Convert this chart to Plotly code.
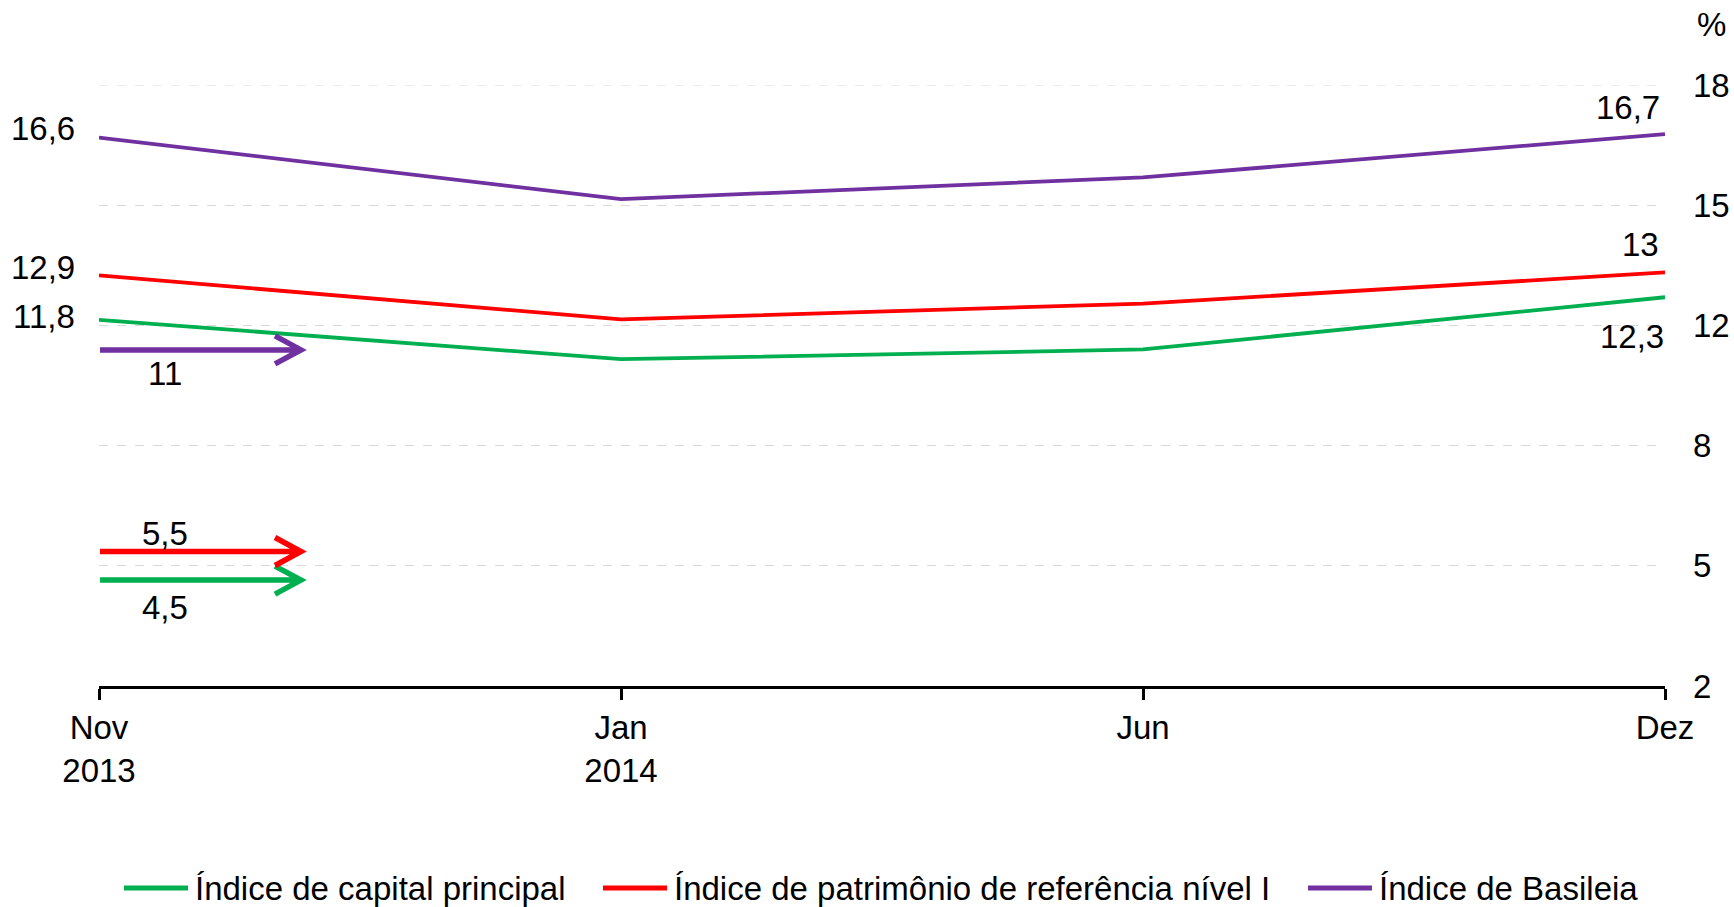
import plotly.graph_objects as go

# ---------------- data ----------------
categories = ["Nov<br>2013", "Jan<br>2014", "Jun", "Dez"]
series_names = [
    "Índice de capital principal",
    "Índice de patrimônio de referência nível I",
    "Índice de Basileia",
]
capital_principal = [11.75, 10.70, 10.96, 12.35]
patrimonio_nivel1 = [12.93, 11.76, 12.18, 13.01]
basileia = [16.60, 14.96, 15.54, 16.69]

start_labels = ["11,8", "12,9", "16,6"]
end_labels = ["12,3", "13", "16,7"]

# regulatory minimums shown as arrows
minimum_values = [4.5, 5.5, 11]
minimum_labels = ["4,5", "5,5", "11"]

y_min, y_max, y_step = 2, 18, 3.2

# ---------------- style ----------------
colors = ["#00B050", "#FF0000", "#7030A0"]
FONT = "Arial, 'Liberation Sans', sans-serif"
FS = 33
W, H = 1734, 907
ML, MR, MT, MB = 99, 69, 85, 221
PW = W - ML - MR
PH = H - MT - MB
start_shift = [(-22, 3), (-22, 8), (-22, 9)]
end_shift = [(1, -39), (-4, 28), (-3, 27)]
arrow_dy = [12, 3, -2]          # pixel offset of drawn arrows
arrow_label_dy = [-15, 21, -26]
arrow_label_dx = 66

# custom legend placement (pixels)
legend_sample_x = [124, 603, 1308]
legend_sample_len = 64
legend_text_gap = 5
legend_y_px = 888


def px_x(p):
    return (p - ML) / PW


def px_y(p):
    return (H - MB - p) / PH


series = [capital_principal, patrimonio_nivel1, basileia]

fig = go.Figure()
for name, vals, col in zip(series_names, series, colors):
    fig.add_trace(go.Scatter(
        x=categories, y=vals, name=name, mode="lines",
        line=dict(color=col, width=3.8),
        hoverinfo="skip", showlegend=False,
    ))

annotations = []
shapes = []
last = len(categories) - 1
for vals, lab, (dx, dy) in zip(series, start_labels, start_shift):
    annotations.append(dict(x=0, y=vals[0], xref="x", yref="y", text=lab,
                            showarrow=False, xanchor="right", yanchor="middle",
                            xshift=dx, yshift=dy, font=dict(size=FS, color="black")))
for vals, lab, (dx, dy) in zip(series, end_labels, end_shift):
    annotations.append(dict(x=last, y=vals[-1], xref="x", yref="y", text=lab,
                            showarrow=False, xanchor="right", yanchor="middle",
                            xshift=dx, yshift=dy, font=dict(size=FS, color="black")))

for val, col, lab, dy, ldy in zip(minimum_values, colors, minimum_labels, arrow_dy, arrow_label_dy):
    shapes.append(dict(
        type="path", xref="x", yref="y", xsizemode="pixel", ysizemode="pixel",
        xanchor=0, yanchor=val,
        path=f"M1,{dy} L202,{dy} M176,{dy + 14} L202,{dy} L176,{dy - 14}",
        line=dict(color=col, width=5.5), layer="above",
    ))
    annotations.append(dict(x=0, y=val, xref="x", yref="y", text=lab,
                            showarrow=False, xanchor="center", yanchor="middle",
                            xshift=arrow_label_dx, yshift=ldy,
                            font=dict(size=FS, color="black")))

# top gridline at the upper end of the axis
shapes.append(dict(type="line", xref="paper", yref="y", x0=0, x1=1, y0=y_max, y1=y_max,
                   line=dict(color="#D9D9D9", width=1, dash="dash"), layer="below"))

# legend (drawn manually to reproduce long sample lines)
for name, col, sx in zip(series_names, colors, legend_sample_x):
    ly = px_y(legend_y_px)
    shapes.append(dict(type="line", xref="paper", yref="paper",
                       x0=px_x(sx), x1=px_x(sx + legend_sample_len), y0=ly, y1=ly,
                       line=dict(color=col, width=5)))
    annotations.append(dict(x=px_x(sx + legend_sample_len + legend_text_gap), y=ly,
                            xref="paper", yref="paper", text=name, showarrow=False,
                            xanchor="left", yanchor="middle",
                            font=dict(size=FS, color="black")))

annotations.append(dict(x=px_x(1711), y=px_y(24), xref="paper", yref="paper", text="%",
                        showarrow=False, xanchor="center", yanchor="middle",
                        font=dict(size=FS, color="black")))

fig.update_layout(
    width=W, height=H,
    margin=dict(l=ML, r=MR, t=MT, b=MB, autoexpand=False),
    paper_bgcolor="white", plot_bgcolor="white",
    font=dict(family=FONT, size=FS, color="black"),
    showlegend=False,
    annotations=annotations,
    shapes=shapes,
    xaxis=dict(
        type="category", range=[0, last], showgrid=False,
        showline=True, linecolor="black", linewidth=2.7,
        ticks="outside", ticklen=11, tickwidth=2.5, tickcolor="black",
        tickfont=dict(size=FS, color="black"), fixedrange=True,
    ),
    yaxis=dict(
        side="right", range=[y_min, y_max], tick0=y_min, dtick=y_step,
        tickformat=".0f", showgrid=True, gridcolor="#D9D9D9", griddash="dash",
        gridwidth=1, zeroline=False, showline=False, ticks="",
        ticklabelstandoff=27, tickfont=dict(size=FS, color="black"), fixedrange=True,
    ),
)

fig.write_html("out.html")
